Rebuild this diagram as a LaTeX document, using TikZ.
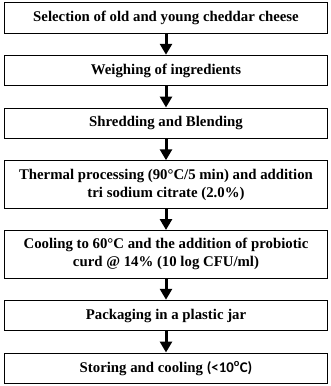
\documentclass[tikz,border=0pt]{standalone}
\usepackage{fontspec}
\setmainfont{Liberation Serif}
\newfontfamily\calfont{Carlito}
\usetikzlibrary{positioning, arrows.meta}

\begin{document}
\begin{tikzpicture}[
  font=\fontsize{14.8}{18}\selectfont\bfseries,
  node distance=21.25pt,
  stepbox/.style={
    rectangle,
    draw,
    line width=1pt,
    minimum width=323pt,
    minimum height=30.5pt,
    inner sep=2pt,
    align=center,
  },
  tallbox/.style={
    stepbox,
    minimum height=47.5pt,
  },
  flow/.style={
    line width=3pt,
    -{Triangle[width=12pt, length=11pt]},
  },
]
\useasboundingbox (0,0) rectangle (331pt,-386pt);

% --- steps ---
\node[stepbox, anchor=north] (Selection) at (166pt,-2pt) {Selection of old and young cheddar cheese};
\node[stepbox, below=of Selection] (Weighing) {Weighing of ingredients};
\node[stepbox, below=of Weighing] (Shredding) {Shredding and Blending};
\node[tallbox, below=of Shredding] (Thermal) {Thermal processing (90°C/5 min) and addition\\tri sodium citrate (2.0\%)};
\node[tallbox, below=of Thermal] (Cooling) {Cooling to 60°C and the addition of probiotic\\curd @ 14\% (10 log CFU/ml)};
\node[stepbox, below=of Cooling] (Packaging) {Packaging in a plastic jar};
\node[stepbox, below=of Packaging] (Storing) {Storing and cooling {\calfont(<10\textsuperscript{o}C)}};

% --- arrows ---
\draw[flow] (Selection) -- (Weighing);
\draw[flow] (Weighing) -- (Shredding);
\draw[flow] (Shredding) -- (Thermal);
\draw[flow] (Thermal) -- (Cooling);
\draw[flow] (Cooling) -- (Packaging);
\draw[flow] (Packaging) -- (Storing);
\end{tikzpicture}
\end{document}
